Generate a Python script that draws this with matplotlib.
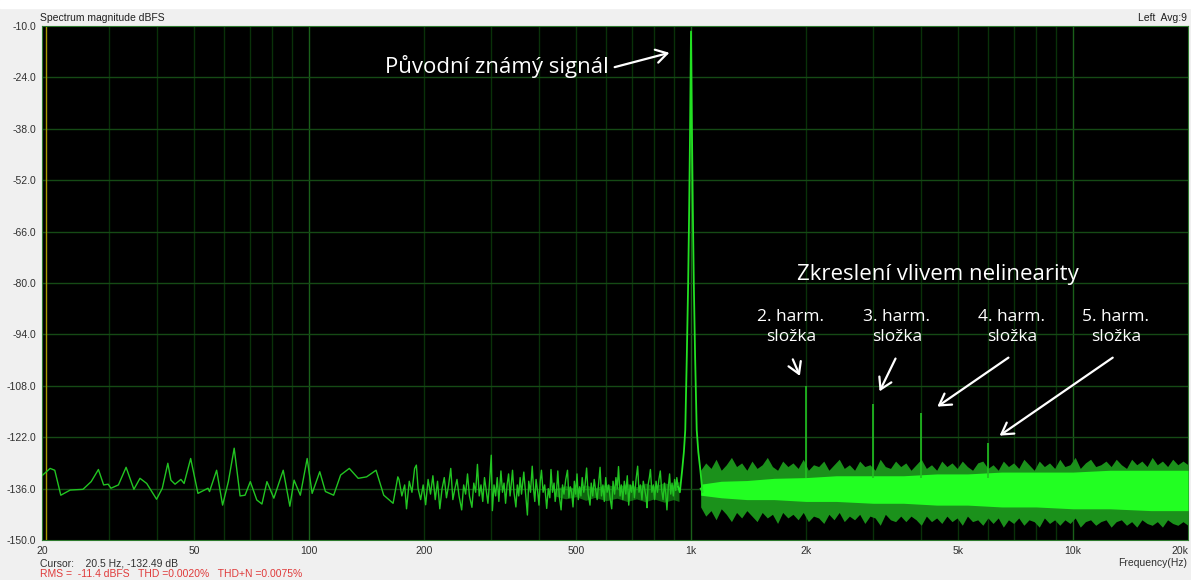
import numpy as np
from matplotlib import pyplot as plt

# low frequency part, single trace (Hz, dBFS)
low_f = [19.8, 21.0, 21.6, 22.4, 23.7, 25.6, 26.9, 28.1, 29.0, 29.8, 30.3, 31.7, 33.2,
         34.8, 36.1, 37.6, 39.9, 41.3, 42.7, 43.5, 44.6, 46.2, 47.1, 49.0, 51.2, 54.4,
         54.9, 57.3, 59.4, 61.5, 63.7, 66.0, 68.0, 70.2, 73.0, 75.3, 77.6, 80.9, 85.6,
         89.1, 91.4, 94.9, 98.9, 101.9, 106.7, 110.4, 116, 121, 127.5, 134.5, 141.5,
         149.8, 156.9, 166, 170.8]
low_db = [-132.9, -130.5, -131, -137.8, -136.4, -136.2, -134.1, -130.8, -135.0, -134.8,
          -135.9, -135, -130.2, -136.2, -133.2, -134.6, -138.9, -135.9, -129.1, -133.7,
          -134.8, -133.5, -134.6, -127.8, -137.3, -135.9, -136.8, -131, -140.5, -134.1,
          -125.0, -138.0, -137.8, -134.1, -139.1, -140.2, -134.1, -138.6, -131, -140.8,
          -133.7, -137.8, -127.8, -137.3, -131.4, -136.8, -137.8, -132.3, -130.5, -133.2,
          -132.8, -131, -137.8, -140, -132.8]

# 170 Hz .. 925 Hz, denser trace
mid_f = [172, 175, 178, 180, 183, 186, 189, 191, 193, 196, 199, 202, 205, 208, 211, 214,
         217, 220, 223, 226, 229, 232, 235, 238, 241, 244, 247, 251, 254, 257, 260, 263,
         267, 270, 273, 276, 279, 282, 285, 288, 291, 294, 297, 300, 302, 305, 308, 311,
         314, 318, 321, 324, 327, 330, 333, 336, 339, 341, 344, 348, 351, 354, 357, 360,
         365, 368, 373, 376, 380, 384, 387, 390, 393, 397, 400, 403, 406, 410, 414, 419,
         423, 427, 430, 434, 438, 441, 445, 448, 452, 457, 461, 465, 470, 475, 479, 483,
         487, 491, 495, 499, 503, 507, 511, 515, 519, 524, 528, 533, 538, 544, 548, 553,
         558, 563, 568, 573, 578, 583, 588, 593, 598, 603, 609, 614, 620, 625, 631, 636,
         641, 646, 652, 657, 663, 669, 675, 681, 687, 693, 699, 705, 711, 718, 725, 731,
         737, 744, 750, 757, 763, 767, 772, 778, 783, 790, 797, 803, 810, 817, 824, 831,
         838, 845, 852, 859, 865, 872, 879, 885, 892, 899, 906, 912, 918, 925]
mid_db = [-133.5, -138, -135, -141.5, -134, -137, -130.5, -129.6, -136, -139, -135, -140.4,
          -133.5, -137.5, -132.5, -139, -134, -141.5, -136, -133, -138.5, -135, -130.5,
          -139, -136, -133.5, -138, -141.8, -135, -137.5, -132, -138, -141.1, -134.5, -137,
          -129.4, -138, -135, -139.5, -133, -136.5, -140, -134, -126.9, -142, -135, -138,
          -133, -139.5, -131.2, -137, -134.5, -140, -135, -132, -138, -134, -131, -137,
          -141, -135, -138, -133, -137.5, -131.5, -136, -143.2, -134, -137, -129.9, -136,
          -139.5, -133.5, -137, -140.5, -134, -131, -137, -135, -141.4,
          -136, -138.5, -130.8, -137, -134.5, -139.5, -136, -131.2, -138, -141.8, -135,
          -137.5, -133.5, -131, -138.5, -135.5, -137, -141, -134, -137.5, -132, -139,
          -135.5, -138, -133, -137, -135, -130.4, -137.5, -140.5, -134.5, -138, -133.5,
          -136.5, -139, -134.5, -130.2, -138, -135, -139.5, -133, -137, -135, -138.5,
          -141.5, -134, -137.5, -133, -136, -130, -138, -135, -139, -134, -137.5, -132.5,
          -140.5, -135, -137, -134, -138.5, -133.5, -129.9, -137, -135, -139, -134, -136.5,
          -138.5, -141.2, -135, -133, -130.8, -137, -135, -139, -134, -137, -133.5, -131.2,
          -136.5, -139, -134.5, -137.5, -141.8, -135.5, -132, -137.5, -134.5, -138, -133.5,
          -136.5, -133, -135.5]

# denser core of the trace below the tone
midcore_f = [440, 470, 500, 530, 560, 600, 640, 680, 720, 760, 800, 850, 900, 930]
midcore_hi = [-136, -135.2, -136, -135, -135.8, -134.8, -135.6, -134.6, -135.5, -134.5,
              -135.3, -134.4, -135, -134]
midcore_lo = [-138, -138.8, -138.2, -139.2, -138.4, -139.3, -138.6, -139.5, -138.8,
              -139.6, -138.8, -139.7, -139, -139.5]

# 1 kHz test tone
peak_f = [935, 948, 958, 966, 975, 983, 989, 994, 1000, 1006, 1011, 1017, 1025, 1035,
          1045, 1058, 1072]
peak_db = [-137, -131, -126, -120, -100, -80, -60, -40, -11.5, -40, -60, -80, -100,
           -120, -126, -131, -137]

# harmonics
harm_f = [2000, 3000, 4000, 6000]
harm_db = [-108, -113, -115.5, -123.5]

# noise band above 1 kHz: outer (jagged) envelope
band_f = [1060, 1093, 1128, 1163, 1200, 1237, 1276, 1316, 1357, 1400,
          1444, 1489, 1536, 1584, 1634, 1685, 1738, 1793, 1849, 1907,
          1967, 2029, 2093, 2158, 2226, 2296, 2368, 2443, 2519, 2598,
          2680, 2764, 2851, 2941, 3033, 3128, 3227, 3328, 3432, 3540,
          3651, 3766, 3884, 4006, 4132, 4262, 4396, 4534, 4676, 4823,
          4974, 5131, 5292, 5458, 5630, 5806, 5989, 6177, 6371, 6571,
          6777, 6990, 7210, 7436, 7670, 7911, 8159, 8416, 8680, 8953,
          9234, 9524, 9823, 10132, 10450, 10779, 11117, 11467, 11827, 12199,
          12582, 12978, 13385, 13806, 14240, 14687, 15149, 15625, 16116, 16622,
          17145, 17684, 18239, 18813, 19404, 20000]
band_hi = [-131, -129, -130.5, -128, -131, -129.5, -127.5, -130, -129, -131,
           -128.5, -130.5, -129.5, -127.5, -130, -131, -128.5, -130, -129, -130.5,
           -128, -131, -129.5, -130, -128.5, -131, -129.5, -128, -130.5, -129.5,
           -131, -128.5, -130, -129.5, -131, -128, -130, -130.5, -128.5, -130,
           -129, -131, -129.5, -128, -130.5, -129.5, -131, -128.5, -130, -129,
           -130.5, -128.5, -130, -131, -129, -128.5, -130.5, -129.5, -131, -128.5,
           -130, -129, -130.5, -128, -129.5, -131, -128.5, -130, -129, -130.5,
           -128, -130, -129.5, -127.5, -130.5, -129, -128, -130, -129.5, -128.5,
           -130, -128, -129.5, -130.5, -128, -129.5, -128.5, -130, -127.5, -129.5,
           -128.5, -130, -128, -129.5, -128.5, -129.5]
band_lo = [-141, -143.5, -142, -144.5, -141.5, -143, -145, -142.5, -144, -142,
           -143.5, -145, -142.5, -144, -143, -145.5, -142.5, -144, -143, -144.5,
           -142.5, -145, -143.5, -144, -145.5, -143, -144.5, -142.5, -145, -143.5,
           -144.5, -143, -145.5, -143.5, -144, -146, -143, -144.5, -145, -143.5,
           -145, -143.5, -144.5, -146, -143.5, -145, -144, -145.5, -143.5, -145,
           -144, -146, -143.5, -145, -144.5, -146, -144, -145.5, -144, -146.5,
           -144.5, -145.5, -144, -146, -144.5, -145, -146.5, -144, -145.5, -144.5,
           -146, -144.5, -145.5, -144, -146.5, -145, -144.5, -146, -145, -144.5,
           -146.5, -145, -144.5, -146, -145, -146.5, -144.5, -145.5, -146, -145,
           -146.5, -144.5, -145.5, -146, -145, -146]

# bright core of the band
core_f = [1060, 1200, 1400, 1650, 2000, 2400, 3000, 3600, 4400, 5300, 6500, 8000,
          10000, 12500, 16000, 20000]
core_hi = [-134.8, -134, -133.8, -133.2, -133, -132.5, -132.5, -132.5, -132, -132,
           -131.5, -131.5, -131.5, -131, -131, -131]
core_lo = [-137.8, -138.5, -139, -139, -139.5, -139.5, -140, -140, -140.5, -140.5, -141,
           -141, -141.5, -141.5, -142, -142]

xticks = [20, 50, 100, 200, 500, 1000, 2000, 5000, 10000, 20000]
xlabels = ["20", "50", "100", "200", "500", "1k", "2k", "5k", "10k", "20k"]
yticks = np.arange(-150, -9, 14)

W, H = 1191, 580
fig = plt.figure(figsize=(W / 100, H / 100), dpi=100, facecolor="#f0f0f0")
fig.patches.append(plt.Rectangle((0, 1 - 8 / H), 1, 8 / H, transform=fig.transFigure,
                                 color="white", zorder=0))
ax = fig.add_axes([42 / W, 40 / H, 1146 / W, 514 / H])
ax.set_facecolor("black")
ax.set_xscale("log")
ax.set_xlim(20, 20000)
ax.set_ylim(-150, -10)

# grid
for e in [10, 100, 1000]:
    for m in range(2, 10):
        if 20 < m * e < 20000:
            ax.axvline(m * e, color="#093109", lw=1, zorder=1)
for v in [100, 1000, 10000]:
    ax.axvline(v, color="#1a601a", lw=1, zorder=1)
for t in yticks[1:-1]:
    ax.axhline(t, color="#154a15", lw=1, zorder=1)
ax.axvline(20.5, color="#a89a00", lw=1, zorder=2)

# spectrum
ax.fill_between(band_f, band_lo, band_hi, color="#1b911b", lw=0, zorder=3)
ax.fill_between(core_f, core_lo, core_hi, color="#22ff22", lw=0, zorder=4)
ax.fill_between(midcore_f, midcore_lo, midcore_hi, color="#22e022", alpha=0.45, lw=0,
                zorder=4)
ax.plot(low_f + mid_f, low_db + mid_db, color="#22c422", lw=1, zorder=5)
ax.plot([925] + peak_f + [1060], [-135.5] + peak_db + [-136], color="#22e022", lw=1.3,
        zorder=5)
ax.vlines(harm_f, -133, harm_db, color="#22c022", lw=1.2, zorder=5)

ax.set_xticks(xticks)
ax.set_xticklabels(xlabels)
ax.set_xticks([], minor=True)
ax.set_yticks(yticks)
ax.set_yticklabels(["%.1f" % t for t in yticks])
ax.tick_params(length=0, labelsize=7.5, colors="#303030", pad=4)
for lab in ax.get_xticklabels() + ax.get_yticklabels():
    lab.set_fontfamily("Liberation Sans")
ax.get_xticklabels()[-1].set_ha("right")
for s in ax.spines.values():
    s.set_color("#2e7a2e")

small = dict(fontsize=7.5, family="Liberation Sans")
fig.text(40 / W, 1 - 18 / H, "Spectrum magnitude dBFS", va="center", color="#202020", **small)
fig.text(1187 / W, 1 - 18 / H, "Left  Avg:9", va="center", ha="right", color="#202020", **small)
fig.text(40 / W, 1 - 563 / H, "Cursor:    20.5 Hz, -132.49 dB", va="center",
         color="#303030", **small)
fig.text(40 / W, 1 - 574 / H, "RMS =  -11.4 dBFS   THD =0.0020%   THD+N =0.0075%",
         va="center", color="#e03a3a", **small)
fig.text(1187 / W, 1 - 563 / H, "Frequency(Hz)", va="center", ha="right",
         color="#303030", **small)

# annotations
big = dict(family="Open Sans", color="white", zorder=6)
arrow = dict(arrowstyle="->,head_length=0.5,head_width=0.3", color="white", lw=1.6,
             mutation_scale=16)
ax.text(158, -20.9, "Původní známý signál", ha="left", va="center", fontsize=16, **big)
ax.annotate("", xy=(892, -17.1), xytext=(621, -21.4), arrowprops=arrow)
ax.text(4432, -77.8, "Zkreslení vlivem nelinearity", ha="center", va="center",
        fontsize=16, **big)
labels_f = [1827, 3458, 6920, 12955]
arr_from = [(1835, -100.1), (3456, -99.9), (6870, -99.9), (12880, -99.9)]
arr_to = [(1940, -106.0), (3093, -110.2), (4354, -114.1), (6336, -122.0)]
for i, f in enumerate(labels_f):
    ax.text(f, -92.0, "%d. harm.\nsložka" % (i + 2), ha="center", va="center",
            linespacing=1.3, fontsize=12.5, **big)
    ax.annotate("", xy=arr_to[i], xytext=arr_from[i], arrowprops=arrow)

plt.savefig("out.png", dpi=100, facecolor=fig.get_facecolor())
